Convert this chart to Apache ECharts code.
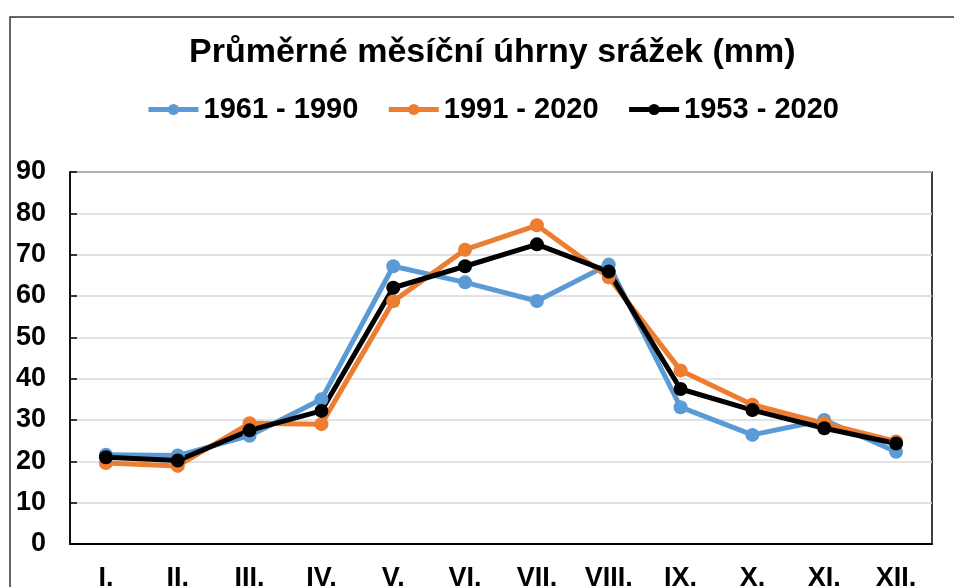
<!DOCTYPE html>
<html>
<head>
<meta charset="utf-8">
<script src="https://cdn.jsdelivr.net/npm/echarts@6/dist/echarts.min.js"></script>
<style>
  html, body { margin: 0; padding: 0; background: #fff; }
  #chart { width: 954px; height: 587px; }
</style>
</head>
<body>
<div id="chart"></div>
<script>
var months = ['I.', 'II.', 'III.', 'IV.', 'V.', 'VI.', 'VII.', 'VIII.', 'IX.', 'X.', 'XI.', 'XII.'];
var s1961 = [21.6, 21.4, 26.2, 35.0, 67.2, 63.3, 58.8, 67.6, 33.1, 26.4, 30.0, 22.3];
var s1991 = [19.6, 18.9, 29.2, 29.0, 58.7, 71.2, 77.1, 64.5, 42.0, 33.7, 29.2, 24.8];
var s1953 = [21.0, 20.2, 27.5, 32.2, 62.0, 67.2, 72.5, 65.9, 37.5, 32.4, 28.0, 24.3];

var chart = echarts.init(document.getElementById('chart'), null, {renderer: 'canvas'});
var font = 'Liberation Sans, Arial, sans-serif';

function line(name, data, color) {
    return {
        name: name,
        type: 'line',
        data: data,
        symbol: 'circle',
        symbolSize: 14,
        lineStyle: {color: color, width: 5},
        itemStyle: {color: color},
        emphasis: {disabled: true}
    };
}

chart.setOption({
    animation: false,
    backgroundColor: '#fff',
    title: {
        text: 'Průměrné měsíční úhrny srážek (mm)',
        left: 184,
        top: 31,
        textStyle: {fontFamily: font, fontSize: 34, fontWeight: 'bold', color: '#000'}
    },
    legend: {
        top: 90,
        left: 141,
        itemWidth: 50,
        itemHeight: 14,
        itemGap: 28,
        lineStyle: {width: 5},
        textStyle: {fontFamily: font, fontSize: 29, fontWeight: 'bold', color: '#000'},
        data: ['1961 - 1990', '1991 - 2020', '1953 - 2020']
    },
    graphic: [{
        type: 'rect',
        shape: {x: 10, y: 17, width: 1000, height: 700},
        style: {fill: 'none', stroke: '#333', lineWidth: 1.5},
        silent: true
    }],
    grid: {
        left: 70, right: 22, top: 172, bottom: 43,
        outerBoundsMode: 'none',
        show: true, borderColor: '#000', borderWidth: 1.5
    },
    xAxis: {
        type: 'category',
        data: months,
        boundaryGap: true,
        axisLine: {lineStyle: {color: '#000', width: 2}},
        axisTick: {inside: true, length: 8, lineStyle: {color: '#000', width: 1.5}},
        axisLabel: {margin: 21, fontFamily: font, fontSize: 27, fontWeight: 'bold', color: '#000'}
    },
    yAxis: {
        type: 'value',
        min: 0, max: 90, interval: 10,
        axisLine: {show: true, lineStyle: {color: '#000', width: 1.5}},
        axisTick: {show: true, inside: true, length: 7, lineStyle: {color: '#000', width: 1.5}},
        axisLabel: {margin: 24, fontFamily: font, fontSize: 27, fontWeight: 'bold', color: '#000'},
        splitLine: {lineStyle: {color: '#d9d9d9', width: 1.5}}
    },
    series: [
        line('1961 - 1990', s1961, '#5b9bd5'),
        line('1991 - 2020', s1991, '#ed7d31'),
        line('1953 - 2020', s1953, '#000000')
    ]
});
</script>
</body>
</html>
